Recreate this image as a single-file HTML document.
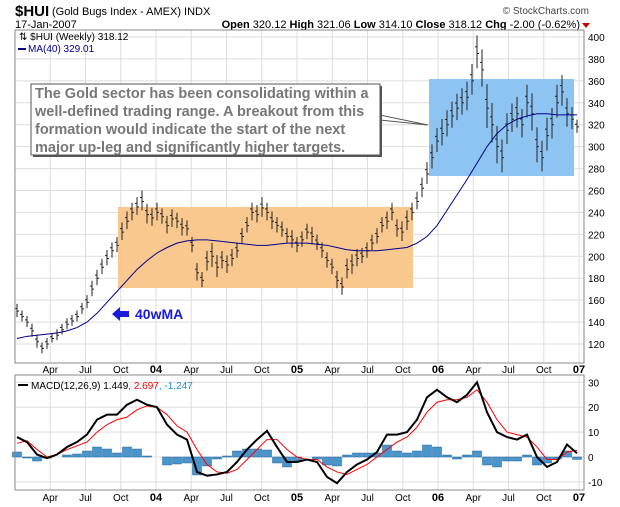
<!DOCTYPE html>
<html><head><meta charset="utf-8"><style>
body{margin:0;background:#fff;}
svg{display:block;font-family:"Liberation Sans",sans-serif;}
</style></head><body>
<svg id="c" width="620" height="507" viewBox="0 0 620 507">
<g>
<text x="15" y="16" font-size="15" font-weight="bold">$HUI</text>
<text x="52" y="15" font-size="11">(Gold Bugs Index - AMEX)  INDX</text>
<text x="589" y="14" font-size="10" fill="#444" text-anchor="end">© StockCharts.com</text>
<text x="15" y="28" font-size="11">17-Jan-2007</text>
<text x="580" y="28" font-size="11" text-anchor="end"><tspan font-weight="bold">Open</tspan> 320.12 <tspan font-weight="bold">High</tspan> 321.06 <tspan font-weight="bold">Low</tspan> 314.10 <tspan font-weight="bold">Close</tspan> 318.12 <tspan font-weight="bold">Chg</tspan> -2.00 (-0.62%)</text>
<path d="M582 23 L590 23 L586 28 Z" fill="#c00"/>
</g>
<g id="grid"></g>
<rect x="118" y="207" width="295" height="81" fill="#f9c88f"/>
<rect x="429" y="79" width="145" height="97" fill="#8ec4f2"/>
<g id="price"></g>
<g id="macd"></g>
<rect x="15" y="30" width="569" height="333" fill="none" stroke="#888"/>
<rect x="15" y="375" width="569" height="115" fill="none" stroke="#888"/>
<g id="axes" font-size="10"></g>
<text x="19" y="40" font-size="10">⇅ $HUI (Weekly) 318.12</text>
<line x1="18" y1="49" x2="26" y2="49" stroke="#00008b" stroke-width="2"/>
<text x="28" y="52" font-size="10" fill="#00008b">MA(40) 329.01</text>
<line x1="18" y1="385" x2="28" y2="385" stroke="#000" stroke-width="2"/>
<text x="31" y="389" font-size="10">MACD(12,26,9) 1.449<tspan fill="red">, 2.697</tspan><tspan fill="#1a8fd0">, -1.247</tspan></text>
<g>
<path d="M380 115 L428 125 L380 120 Z" fill="#fff" stroke="#555"/>
<rect x="33" y="86" width="349" height="71" fill="#555"/>
<rect x="31" y="84" width="349" height="71" fill="#fff" stroke="#555"/>
<text font-size="14.5" font-weight="bold" fill="#777">
<tspan x="35" y="98">The Gold sector has been consolidating within a</tspan>
<tspan x="35" y="116">well-defined trading range. A breakout from this</tspan>
<tspan x="35" y="134">formation would indicate the start of the next</tspan>
<tspan x="35" y="152">major up-leg and significantly higher targets.</tspan>
</text>
</g>
<g>
<path d="M112 314 L120 307 L120 311 L129 311 L129 317 L120 317 L120 321 Z" fill="#1a1adf"/>
<text x="135" y="319" font-size="14" font-weight="bold" fill="#1a1adf">40wMA</text>
</g>
</svg>
<script>
const closes=[150,145,140,132,122,116,120,125,128,133,
138,141,145,152,158,170,180,190,198,205,
210,222,232,240,245,250,238,235,240,236,
228,234,232,226,225,210,185,178,195,200,
190,196,192,198,205,218,228,240,238,244,
240,232,228,224,218,215,210,215,222,218,
212,205,196,190,178,172,188,192,198,200,
205,212,218,228,232,240,225,222,232,240,
250,262,275,290,305,312,320,328,335,340,
345,360,385,370,335,320,300,290,315,325,
330,320,340,330,300,290,310,320,340,350,
330,325,318];
const ranges=[12,10,10,12,12,10,10,8,10,10,
10,10,10,10,12,14,14,14,14,14,
14,16,16,16,16,18,18,16,16,14,
16,16,14,16,14,14,16,14,18,22,
20,16,16,16,14,14,14,16,16,18,
16,16,14,14,14,16,14,14,14,16,
14,14,14,14,16,16,18,18,16,14,
14,14,14,14,16,16,16,18,18,16,
16,18,20,22,22,24,24,24,24,24,
26,28,30,34,40,36,34,30,28,26,
28,26,30,34,32,28,30,28,30,28,
26,20,12];
const ma40=[125,127,128,129,130,132,135,140,148,158,168,178,188,196,203,208,212,214,215,215,214,213,212,211,210,210,211,212,212,212,211,210,208,206,205,205,205,206,207,208,212,218,228,242,256,270,285,300,312,320,325,328,330,330,329,329,329];
const macdLine=[8,6,1,-0.5,1,4,6,9,15,17,17,21,23,21,20,13,9,7,-6,-7.5,-7,-6,-2,3,7,10.5,4,-2,-2,-1,-2,-8,-10.5,-6,-3,-1,2,9,9,10,15,24,27,24,22,25,30,18,10,8,7,9,0,-4,-2,5,1.5];
const signalLine=[5.5,6.5,3,0,1,3,4.5,6,10,13,15,16,19,20.5,20,17,12.5,10,3,-3,-6,-6.5,-5,-1,3,7,7,3,0,-1,-1,-4,-6,-7,-5,-3,0,3,6,8,12,18,22,23,23,24,27,22,15,10,9,8,4,-1,-1,2,2.7];
const priceTicks=[120,140,160,180,200,220,240,260,280,300,320,340,360,380,400];
const macdTicks=[-10,0,10,20,30];
const monthLabels=["Apr","Jul","Oct","04","Apr","Jul","Oct","05","Apr","Jul","Oct","06","Apr","Jul","Oct","07"];
const monthIndex=[3,6,9,12,15,18,21,24,27,30,33,36,39,42,45,48];

const NS="http://www.w3.org/2000/svg";
function mk(p,t,a){const e=document.createElementNS(NS,t);for(const k in a)e.setAttribute(k,a[k]);p.appendChild(e);return e;}
const xs=(i,n)=>17+i*560/(n-1);
const xm=m=>15+m*11.75;
const yp=v=>37+(400-v)*1.0964;
const ym=v=>457-v*2.49;
const grid=document.getElementById('grid'),axes=document.getElementById('axes');
priceTicks.forEach(v=>{
  const l=mk(grid,'line',{x1:15,x2:584,y1:yp(v),y2:yp(v),stroke:'#ddd'});
  
  
  const t=mk(axes,'text',{x:588,y:yp(v)+4});t.textContent=v;
  
  
});
macdTicks.forEach(v=>{
  const l=mk(grid,'line',{x1:15,x2:584,y1:ym(v),y2:ym(v),stroke:'#ddd'});
  
  
  const t=mk(axes,'text',{x:588,y:ym(v)+4});t.textContent=v;
  
  
});
monthLabels.forEach((s,k)=>{
  const x=xm(monthIndex[k]);
  [[30,363],[375,490]].forEach(r=>{const l=mk(grid,'line',{x1:x,x2:x,y1:r[0],y2:r[1],stroke:'#ddd'});
    
    });
  const yr=/^\d/.test(s);
  [373,501].forEach(y=>{const t=mk(axes,'text',{x:x,y:y,'text-anchor':'middle','font-weight':yr?'bold':'normal','font-size':yr?11:10});t.textContent=s;
    
    });
});
const pg=document.getElementById('price');
closes.forEach((c,i)=>{
  const x=xs(i,closes.length),r=ranges[i];
  const b=mk(pg,'path',{d:`M${x} ${yp(c+r*0.55)}V${yp(c-r*0.45)}M${x-2} ${yp(c+r*0.2)}H${x}M${x} ${yp(c)}H${x+2}`,stroke:'#222','stroke-width':1,fill:'none'});
  
  
});
const ma=mk(pg,'polyline',{points:ma40.map((v,i)=>xs(i,ma40.length)+','+yp(v)).join(' '),fill:'none',stroke:'#00008b','stroke-width':1});


const mg=document.getElementById('macd');
macdLine.forEach((v,i)=>{
  const h=(v-signalLine[i])*0.8,x=xs(i,macdLine.length);
  const r=mk(mg,'rect',{x:x-4.5,width:9,y:Math.min(ym(0),ym(h)),height:Math.abs(ym(h)-ym(0)),fill:'#4a95cc',stroke:'#1d5f94','stroke-width':0.5});
  
  
});
const sl=mk(mg,'polyline',{points:signalLine.map((v,i)=>xs(i,signalLine.length)+','+ym(v)).join(' '),fill:'none',stroke:'red','stroke-width':1});


const ml=mk(mg,'polyline',{points:macdLine.map((v,i)=>xs(i,macdLine.length)+','+ym(v)).join(' '),fill:'none',stroke:'#000','stroke-width':2});


</script>
</body></html>
